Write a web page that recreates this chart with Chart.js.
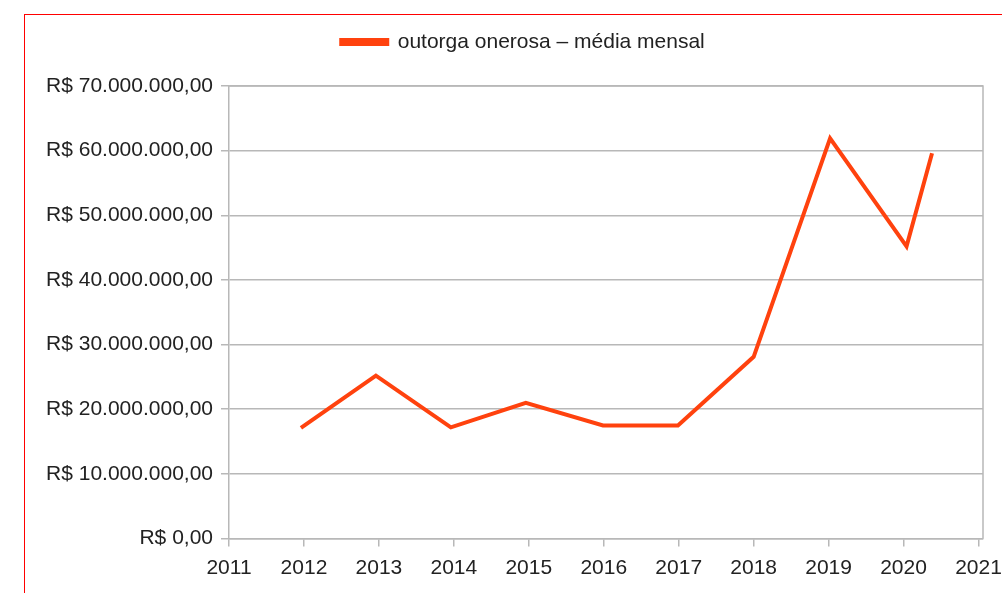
<!DOCTYPE html>
<html>
<head>
<meta charset="utf-8">
<script src="https://cdn.jsdelivr.net/npm/chart.js@4/dist/chart.umd.min.js"></script>
<style>
  html, body { margin: 0; padding: 0; background: #fff; overflow: hidden; }
  #frame { position: absolute; left: 24px; top: 14px; width: 1100px; height: 700px; border: 1.5px solid #ff0000; box-sizing: border-box; }
  #wrap { position: absolute; left: 0; top: 0; width: 1002px; height: 593px; }
</style>
</head>
<body>
<div id="frame"></div>
<div id="wrap"><canvas id="line-chart" width="1002" height="593"></canvas></div>
<script>
// ano (posição no eixo) e média mensal em R$
var anos = [2011.96, 2012.96, 2013.96, 2014.96, 2015.99, 2016.99, 2018.0, 2019.02, 2020.04, 2020.38];
var mediaMensal = [17100000, 25200000, 17200000, 21000000, 17500000, 17500000, 28100000, 61900000, 45200000, 59600000];
var anosTicks = [2011, 2012, 2013, 2014, 2015, 2016, 2017, 2018, 2019, 2020, 2021];
var serieLabel = 'outorga onerosa – média mensal';

function reais(v) {
  var parts = Math.round(v).toString().replace(/\B(?=(\d{3})+(?!\d))/g, '.');
  return 'R$ ' + parts + ',00';
}

var pontos = anos.map(function(a, i) { return { x: a, y: mediaMensal[i] }; });

var gridColor = '#b8b8b8';
var fonte = { family: 'Liberation Sans', size: 21 };

// borda superior/direita da área do gráfico + espaço abaixo da legenda
var frameBox = {
  id: 'frameBox',
  beforeLayout: function(chart) {
    var lg = chart.legend;
    if (lg && !lg._ajustado) {
      var fit = lg.fit;
      lg.fit = function() { fit.apply(this, arguments); this.height += 23.5; };
      lg._ajustado = true;
    }
  },
  afterLayout: function(chart) {
    var lg = chart.legend;
    if (lg) { lg.left += 31.5; lg.right += 31.5; }
  },
  afterDatasetsDraw: function(chart) {
    var a = chart.chartArea, ctx = chart.ctx;
    ctx.save();
    ctx.strokeStyle = gridColor;
    ctx.lineWidth = 1.5;
    ctx.beginPath();
    ctx.moveTo(a.left, a.top);
    ctx.lineTo(a.right, a.top);
    ctx.lineTo(a.right, a.bottom);
    ctx.stroke();
    ctx.restore();
  }
};

new Chart(document.getElementById('line-chart'), {
  type: 'line',
  data: {
    datasets: [{
      label: serieLabel,
      data: pontos,
      borderColor: '#ff420e',
      backgroundColor: '#ff420e',
      borderWidth: 4,
      pointRadius: 0,
      fill: false,
      tension: 0
    }]
  },
  options: {
    responsive: false,
    animation: false,
    layout: {
      padding: { top: 21.5, right: 19, left: 0, bottom: 0 }
    },
    plugins: {
      legend: {
        position: 'top',
        labels: {
          boxWidth: 46,
          boxHeight: 4,
          padding: 10,
          color: '#222',
          font: fonte
        }
      },
      tooltip: { enabled: false }
    },
    scales: {
      x: {
        type: 'linear',
        min: 2011,
        max: 2021.06,
        afterBuildTicks: function(axis) {
          axis.ticks = anosTicks.map(function(v) { return { value: v }; });
        },
        afterFit: function(axis) { axis.height = 54.5; axis.paddingRight = 0; axis.paddingLeft = 0; },
        grid: { color: 'rgba(0,0,0,0)', tickColor: gridColor, tickLength: 8, lineWidth: 1.5 },
        border: { color: gridColor, width: 1.5 },
        ticks: {
          color: '#222',
          padding: 9,
          maxRotation: 0,
          autoSkip: false,
          font: fonte,
          callback: function(v) { return String(v); }
        }
      },
      y: {
        min: 0,
        max: 70000000,
        afterFit: function(axis) { axis.width = 229; },
        grid: { color: gridColor, tickColor: gridColor, tickLength: 8, lineWidth: 1.5 },
        border: { color: gridColor, width: 1.5 },
        ticks: {
          stepSize: 10000000,
          color: '#222',
          padding: 8,
          font: fonte,
          callback: function(v) { return reais(v); }
        }
      }
    }
  },
  plugins: [frameBox]
});
</script>
</body>
</html>
